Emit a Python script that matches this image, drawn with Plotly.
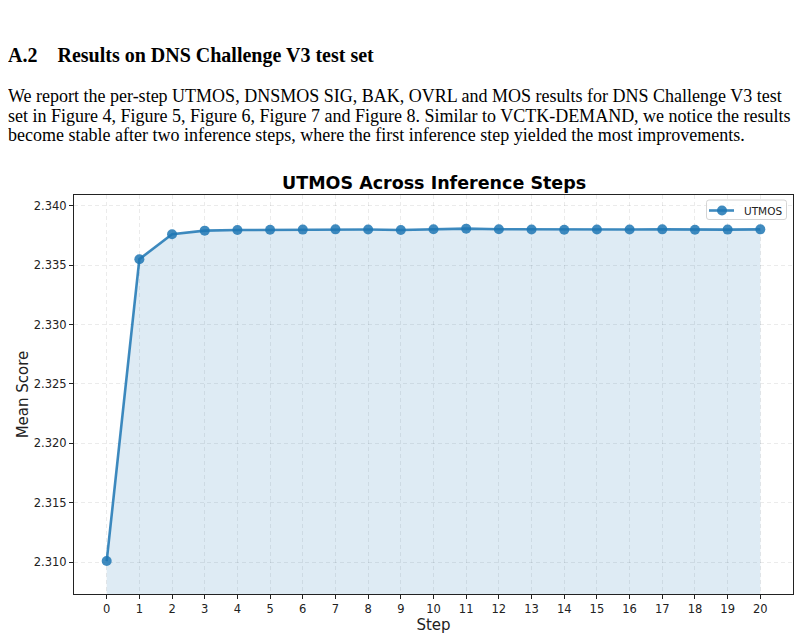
import plotly.graph_objects as go

# data -----------------------------------------------------------------------
steps = list(range(0, 21))
utmos = [2.3101, 2.3355, 2.3376, 2.3379, 2.33795, 2.33797, 2.33799, 2.33801,
         2.33800, 2.33796, 2.33802, 2.33807, 2.33802, 2.33800, 2.33798,
         2.33800, 2.33800, 2.33801, 2.33797, 2.33799, 2.33801]
y_ticks = [2.310, 2.315, 2.320, 2.325, 2.330, 2.335, 2.340]
series_name = "UTMOS"

heading = "<b>A.2    Results on DNS Challenge V3 test set</b>"
paragraph = [
    "We report the per-step UTMOS, DNSMOS SIG, BAK, OVRL and MOS results for DNS Challenge V3 test",
    "set in Figure 4, Figure 5, Figure 6, Figure 7 and Figure 8. Similar to VCTK-DEMAND, we notice the results",
    "become stable after two inference steps, where the first inference step yielded the most improvements.",
]

# page geometry (pixels, screen coords) -------------------------------------
# the page body has an 8px margin, so the figure is drawn 8px in
OFF = 8
W, H = 805 - OFF, 639 - OFF
plot_l, plot_r, plot_t, plot_b = 74 - OFF, 793 - OFF, 195 - OFF, 594 - OFF
plot_h = plot_b - plot_t
plot_w = plot_r - plot_l


def px_x(x):
    return (x - OFF - plot_l) / plot_w


def px_y(y):
    return (plot_b - (y - OFF)) / plot_h


line_col = "rgba(31,119,180,0.85)"
fill_col = "rgba(31,119,180,0.15)"

fig = go.Figure()

# shaded area under the curve
fig.add_trace(go.Scatter(x=steps, y=utmos, fill="tozeroy", fillcolor=fill_col,
                         mode="lines", line=dict(width=0.8, color="rgba(31,119,180,0.15)"),
                         showlegend=False, hoverinfo="skip"))

fig.add_trace(go.Scatter(x=steps, y=utmos, name=series_name, mode="lines+markers",
                         line=dict(width=2.6, color=line_col),
                         marker=dict(size=10, color=line_col), showlegend=False))

annotations = []
annotations.append(dict(text=heading, x=px_x(6), y=px_y(56), xref="paper", yref="paper",
                        xanchor="left", yanchor="middle", showarrow=False,
                        font=dict(family="Liberation Serif", size=20, color="black")))
for i, line in enumerate(paragraph):
    annotations.append(dict(text=line, x=px_x(6), y=px_y(96 + i * 19.5), xref="paper", yref="paper",
                            xanchor="left", yanchor="middle", showarrow=False,
                            font=dict(family="Liberation Serif", size=18, color="black")))
annotations.append(dict(text="<b>UTMOS Across Inference Steps</b>", x=0.5, y=px_y(183),
                        xref="paper", yref="paper", xanchor="center", yanchor="middle",
                        showarrow=False, font=dict(family="DejaVu Sans", size=17.5, color="black")))

# small matplotlib-style legend box (drawn by hand, plotly's is too tall)
lx0, lx1, ly0, ly1 = 706.5, 786.5, 200, 219.5
rr = 2.5
box_path = (f"M {px_x(lx0 + rr)},{px_y(ly0)} L {px_x(lx1 - rr)},{px_y(ly0)} "
            f"Q {px_x(lx1)},{px_y(ly0)} {px_x(lx1)},{px_y(ly0 + rr)} "
            f"L {px_x(lx1)},{px_y(ly1 - rr)} Q {px_x(lx1)},{px_y(ly1)} {px_x(lx1 - rr)},{px_y(ly1)} "
            f"L {px_x(lx0 + rr)},{px_y(ly1)} Q {px_x(lx0)},{px_y(ly1)} {px_x(lx0)},{px_y(ly1 - rr)} "
            f"L {px_x(lx0)},{px_y(ly0 + rr)} Q {px_x(lx0)},{px_y(ly0)} {px_x(lx0 + rr)},{px_y(ly0)} Z")
shapes = [
    dict(type="path", path=box_path, xref="paper", yref="paper",
         fillcolor="rgba(255,255,255,0.8)", line=dict(color="#d5d5d5", width=1)),
    dict(type="line", xref="paper", yref="paper", x0=px_x(709), x1=px_x(734),
         y0=px_y(210.5), y1=px_y(210.5), line=dict(color=line_col, width=2.6)),
    dict(type="circle", xref="paper", yref="paper", x0=px_x(717), x1=px_x(727),
         y0=px_y(205.5), y1=px_y(215.5), fillcolor=line_col, line=dict(width=0)),
]
annotations.append(dict(text=series_name, x=px_x(742), y=px_y(210.5), xref="paper", yref="paper",
                        xanchor="left", yanchor="middle", showarrow=False,
                        font=dict(family="DejaVu Sans", size=10.5, color="#222222")))

fig.update_layout(
    width=W, height=H,
    margin=dict(l=plot_l, r=W - plot_r, t=plot_t, b=H - plot_b),
    paper_bgcolor="white", plot_bgcolor="white",
    font=dict(family="DejaVu Sans", size=11, color="#222222"),
    annotations=annotations, shapes=shapes,
    showlegend=False,
)

fig.update_xaxes(range=[-1, 21], tickmode="array", tickvals=steps, automargin=False,
                 ticks="outside", ticklen=4, tickcolor="#222222",
                 tickfont=dict(size=11.5),
                 showline=True, linecolor="#222222", linewidth=1.2, mirror=True,
                 showgrid=True, gridcolor="rgba(0,0,0,0.08)", griddash="4px,3px",
                 zeroline=False,
                 title=dict(text="Step", font=dict(size=15, color="#222222"), standoff=2))
fig.update_yaxes(range=[2.30733, 2.3409], tickmode="array", tickvals=y_ticks, automargin=False,
                 tickformat=".3f",
                 ticks="outside", ticklen=4, tickcolor="#222222",
                 tickfont=dict(size=11.5),
                 showline=True, linecolor="#222222", linewidth=1.2, mirror=True,
                 showgrid=True, gridcolor="rgba(0,0,0,0.08)", griddash="4px,3px",
                 zeroline=False,
                 title=dict(text="Mean Score", font=dict(size=15, color="#222222"), standoff=1))

fig.write_html("out.html")
